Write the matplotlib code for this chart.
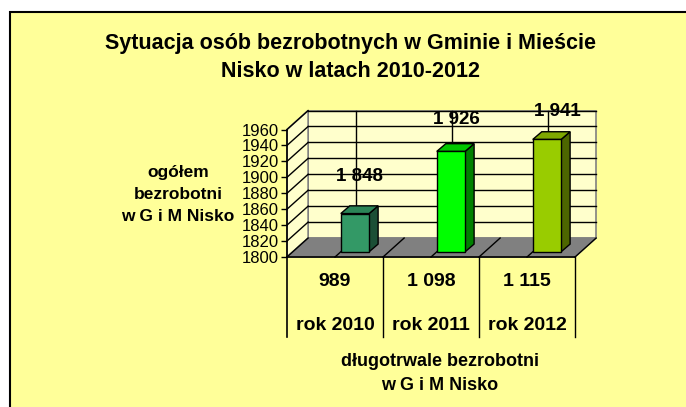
import matplotlib
matplotlib.use("Agg")
import matplotlib.pyplot as plt
from matplotlib.patches import Polygon, Rectangle
from matplotlib.transforms import blended_transform_factory

plt.rcParams['font.family'] = ['Liberation Sans', 'DejaVu Sans']

# data
years = ['rok 2010', 'rok 2011', 'rok 2012']
total_unemployed = [1848, 1926, 1941]
long_term = ['989', '1 098', '1 115']
total_labels = ['1 848', '1 926', '1 941']
bar_colors = ['#339966', '#00FF00', '#99CC00']
side_colors = ['#1B4F36', '#008000', '#4D6600']
top_colors = ['#2B8557', '#00C800', '#7FA800']
yticks = list(range(1800, 1961, 20))
label_nudge = [(0, 27), (1, 23), (4, 20)]   # points, label offset from bar top

W, H = 686, 407
fig = plt.figure(figsize=(W / 100, H / 100), dpi=100)
fig.patch.set_facecolor('white')

# yellow chart area with black frame
fig.patches.append(Rectangle((10 / W, -0.05), 1.0, 1 - 12 / H + 0.05, transform=fig.transFigure,
                             facecolor='#FFFF99', edgecolor='black', lw=1.5, zorder=-10))

ax = fig.add_axes([287 / W, (H - 257) / H, 288 / W, 127.5 / H])
ax.set_xlim(0, 3)
ax.set_ylim(1800, 1960)
ax.patch.set_visible(False)
for s in ['top', 'right', 'bottom']:
    ax.spines[s].set_visible(False)
ax.spines['left'].set_linewidth(1.2)
ax.set_xticks([])
ax.set_yticks(yticks)
ax.tick_params(axis='y', length=4, width=1, pad=2, labelsize=12)

# depth of the 3d box in data units
DX, DY = 0.22, 23.8
y0, y1 = 1800, 1960

# back wall + left wall
ax.add_patch(Polygon([(DX, y0 + DY), (3 + DX, y0 + DY), (3 + DX, y1 + DY), (DX, y1 + DY)],
                     closed=True, facecolor='#FFFFCC', edgecolor='#808080', lw=1.2, zorder=0.5, clip_on=False))
ax.add_patch(Polygon([(0, y0), (DX, y0 + DY), (DX, y1 + DY), (0, y1)],
                     closed=True, facecolor='#FFFFCC', edgecolor='#808080', lw=1.2, zorder=0.5, clip_on=False))

# gridlines
for v in yticks[1:]:
    ax.plot([DX, 3 + DX], [v + DY, v + DY], color='black', lw=1, zorder=1, clip_on=False)
    ax.plot([0, DX], [v, v + DY], color='black', lw=1, zorder=1, clip_on=False)
for i in range(3):
    ax.plot([i + 0.5 + DX] * 2, [y0 + DY, y1 + DY], color='black', lw=1, zorder=1, clip_on=False)

# floor
ax.add_patch(Polygon([(0, y0), (3, y0), (3 + DX, y0 + DY), (DX, y0 + DY)],
                     closed=True, facecolor='#808080', edgecolor='#808080', lw=1, zorder=1.5, clip_on=False))
ax.plot([0, 3], [y0, y0], color='black', lw=1.2, zorder=1.6, clip_on=False)
for i in range(4):
    ax.plot([i, i + DX], [y0, y0 + DY], color='black', lw=1, zorder=1.6, clip_on=False)
for i in range(3):
    ax.plot([i + 0.5, i + 0.5 + DX], [y0, y0 + DY], color='black', lw=1, zorder=1.6, clip_on=False)

# 3d bars
bw = 0.295
bdx, bdy = 0.094, 9.7
shift = 6.5
for i, v in enumerate(total_unemployed):
    x0 = i + 0.56
    yb, yt = y0 + shift, v + shift
    front = [(x0, yb), (x0 + bw, yb), (x0 + bw, yt), (x0, yt)]
    side = [(x0 + bw, yb), (x0 + bw + bdx, yb + bdy), (x0 + bw + bdx, yt + bdy), (x0 + bw, yt)]
    top = [(x0, yt), (x0 + bw, yt), (x0 + bw + bdx, yt + bdy), (x0 + bdx, yt + bdy)]
    ax.add_patch(Polygon(side, closed=True, facecolor=side_colors[i], edgecolor='black', lw=1, zorder=3, clip_on=False))
    ax.add_patch(Polygon(top, closed=True, facecolor=top_colors[i], edgecolor='black', lw=1, zorder=3, clip_on=False))
    ax.add_patch(Polygon(front, closed=True, facecolor=bar_colors[i], edgecolor='black', lw=1, zorder=3, clip_on=False))
    ax.annotate(total_labels[i], (x0 + bw / 2 + bdx / 2, yt), xytext=label_nudge[i],
                textcoords='offset points', ha='center', va='center', fontsize=13.5,
                fontweight='bold', zorder=5, annotation_clip=False)

# data table under the axis
tr = blended_transform_factory(ax.transData, fig.transFigure)
ax.plot([0, 0], [(H - 257) / H, (H - 337) / H], color='black', lw=1.2, transform=tr, clip_on=False)
for i in range(1, 4):
    ax.plot([i, i], [(H - 257) / H, (H - 337) / H], color='black', lw=1, transform=tr, clip_on=False)
for i in range(3):
    ax.text(i + 0.5, (H - 281) / H, long_term[i], transform=tr, ha='center', va='center',
            fontsize=14, fontweight='bold')
    ax.text(i + 0.5, (H - 325) / H, years[i], transform=tr, ha='center', va='center',
            fontsize=14, fontweight='bold')

# titles
fig.text(351 / W, (H - 57.5) / H, 'Sytuacja osób bezrobotnych w Gminie i Mieście\nNisko w latach 2010-2012',
         ha='center', va='center', fontsize=15.5, fontweight='bold', linespacing=1.45)
fig.text(178 / W, (H - 194.5) / H, 'ogółem\nbezrobotni\nw G i M Nisko', ha='center', va='center',
         fontsize=12.5, fontweight='bold', linespacing=1.55)
fig.text(440 / W, (H - 373.5) / H, 'długotrwale bezrobotni\nw G i M Nisko', ha='center', va='center',
         fontsize=13, fontweight='bold', linespacing=1.5)

fig.savefig('out.png', dpi=100)
